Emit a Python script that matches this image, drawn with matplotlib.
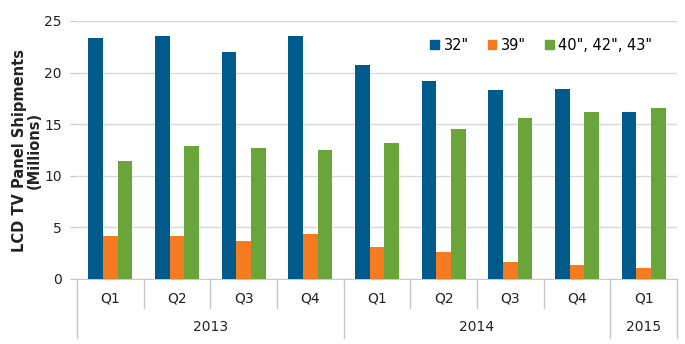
import matplotlib.pyplot as plt
import numpy as np
from matplotlib.patches import Patch

quarters = ['Q1', 'Q2', 'Q3', 'Q4', 'Q1', 'Q2', 'Q3', 'Q4', 'Q1']
years = ['2013', '2014', '2015']
year_spans = [(0, 4), (4, 8), (8, 9)]

s32 = [23.4, 23.5, 22.0, 23.5, 20.7, 19.2, 18.3, 18.4, 16.2]
s39 = [4.2, 4.2, 3.7, 4.4, 3.1, 2.65, 1.65, 1.35, 1.1]
s40 = [11.4, 12.9, 12.7, 12.5, 13.2, 14.5, 15.6, 16.2, 16.6]

series = [('32"', s32, '#005A8C'), ('39"', s39, '#F47B20'), ('40", 42", 43"', s40, '#6AA53A')]

fig = plt.figure(figsize=(6.85, 3.44), dpi=100)
ax = fig.add_axes([77/685, 1 - 279/344, 600/685, 258/344])

x = np.arange(len(quarters))
w = 0.22
for i, (name, vals, col) in enumerate(series):
    ax.bar(x + (i - 1) * w, vals, w, color=col, label=name, zorder=3)

ax.set_xlim(-0.5, len(quarters) - 0.5)
ax.set_ylim(0, 25)
ax.set_yticks(range(0, 26, 5))
ax.yaxis.grid(True, color='#d9d9d9', lw=1, zorder=0)
for s in ['top', 'right', 'left']:
    ax.spines[s].set_visible(False)
ax.spines['bottom'].set_color('#c8c8c8')
ax.tick_params(axis='y', length=5, color='#c8c8c8', labelsize=10, pad=6, labelcolor='#222222')
ax.set_xticks([])
ax.set_ylabel('LCD TV Panel Shipments\n(Millions)', fontsize=10.5, fontweight='bold',
              color='#222222', linespacing=1.0)
ax.yaxis.set_label_coords(-0.058, 0.5)

# multi-level category axis
tr = ax.get_xaxis_transform()
for i, q in enumerate(quarters):
    ax.text(i, -0.074, q, transform=tr, ha='center', va='center', fontsize=10, color='#222222')
year_edges = {s for span in year_spans for s in span}
for e in range(len(quarters) + 1):
    y_end = -0.23 if e in year_edges else -0.112
    ax.plot([e - 0.5, e - 0.5], [0, y_end], transform=tr, color='#c8c8c8', lw=1, clip_on=False)
for yr, (a, b) in zip(years, year_spans):
    ax.text((a + b - 1) / 2, -0.186, yr, transform=tr, ha='center', va='center',
            fontsize=10, color='#222222')

handles = [Patch(color=c) for _, _, c in series]
ax.legend(handles, [n for n, _, _ in series], loc='upper right', bbox_to_anchor=(0.98, 0.985),
          ncol=3, frameon=False, fontsize=10.5, handlelength=0.6, handleheight=0.6,
          handletextpad=0.3, columnspacing=1.3)

fig.savefig('out.png', dpi=100, facecolor='white')
